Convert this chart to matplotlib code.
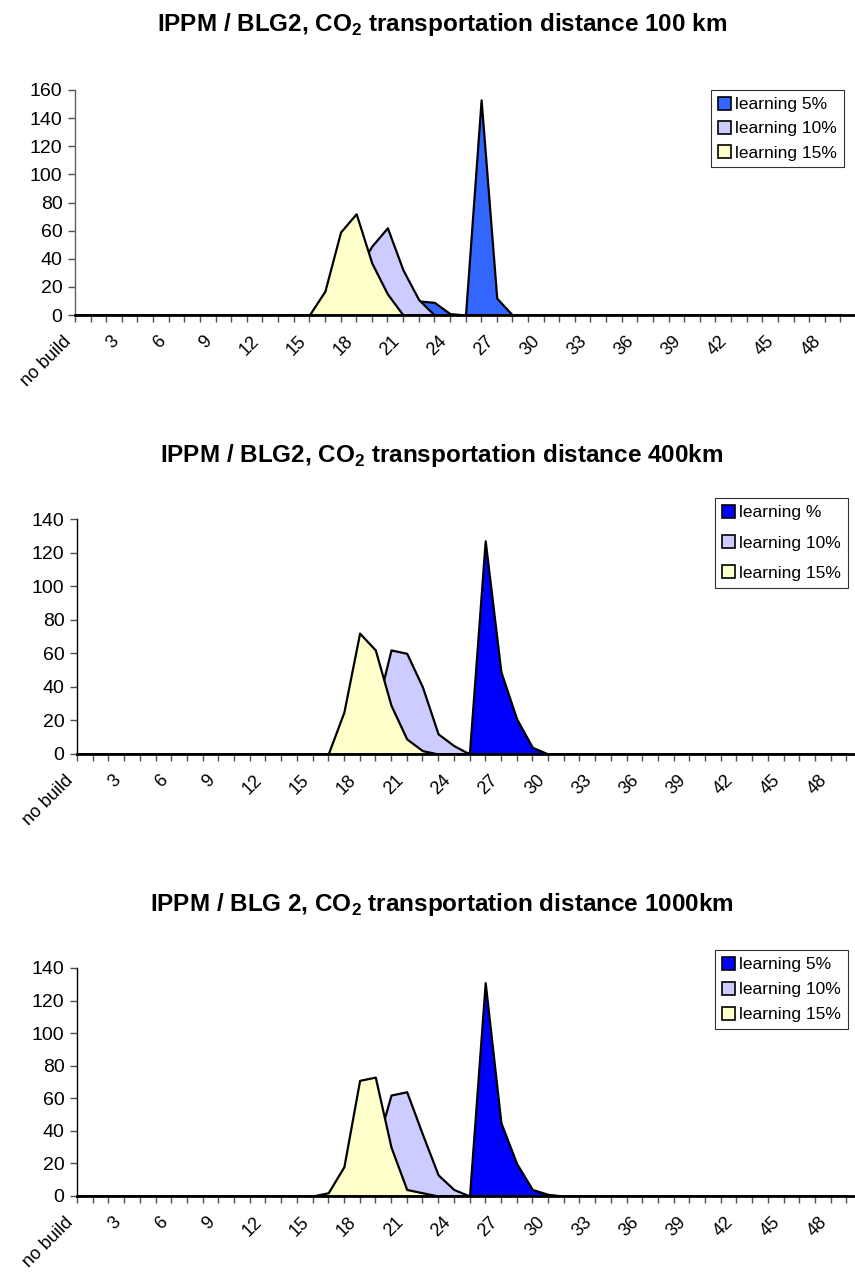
import matplotlib
matplotlib.use("Agg")
import matplotlib.pyplot as plt
from matplotlib.patches import Patch

plt.rcParams['font.family'] = ['Liberation Sans', 'DejaVu Sans']
plt.rcParams['mathtext.fontset'] = 'custom'
plt.rcParams['mathtext.rm'] = 'Liberation Sans'
plt.rcParams['mathtext.bf'] = 'Liberation Sans:bold'

# ---------------- data ----------------
categories = ["no build"] + [str(i) for i in range(1, 50)]
tick_labels_shown = ["no build"] + [str(i) if i % 3 == 0 else "" for i in range(1, 50)]

#            0  1  2  3  4  5  6  7  8  9 10 11 12 13 14 15 16 17 18 19 20 21 22 23 24 25  26  27 28 29 30 31 ...
l5_100  = [0, 0, 0, 0, 0, 0, 0, 0, 0, 0, 0, 0, 0, 0, 0, 0, 0, 0, 0, 0, 2, 5, 10, 9, 1, 0, 153, 12, 0, 0,
           0, 0, 0, 0, 0, 0, 0, 0, 0, 0, 0, 0, 0, 0, 0, 0, 0, 0, 0, 0]
l10_100 = [0, 0, 0, 0, 0, 0, 0, 0, 0, 0, 0, 0, 0, 0, 0, 0, 0, 5, 30, 49, 62, 32, 11, 0, 0, 0, 0, 0, 0, 0,
           0, 0, 0, 0, 0, 0, 0, 0, 0, 0, 0, 0, 0, 0, 0, 0, 0, 0, 0, 0]
l15_100 = [0, 0, 0, 0, 0, 0, 0, 0, 0, 0, 0, 0, 0, 0, 0, 0, 17, 59, 72, 37, 15, 0, 0, 0, 0, 0, 0, 0, 0, 0,
           0, 0, 0, 0, 0, 0, 0, 0, 0, 0, 0, 0, 0, 0, 0, 0, 0, 0, 0, 0]

l5_400  = [0, 0, 0, 0, 0, 0, 0, 0, 0, 0, 0, 0, 0, 0, 0, 0, 0, 0, 0, 0, 0, 0, 0, 0, 0, 1, 127, 49, 21, 4,
           0, 0, 0, 0, 0, 0, 0, 0, 0, 0, 0, 0, 0, 0, 0, 0, 0, 0, 0, 0]
l10_400 = [0, 0, 0, 0, 0, 0, 0, 0, 0, 0, 0, 0, 0, 0, 0, 0, 0, 0, 5, 24, 62, 60, 40, 12, 5, 0, 0, 0, 0, 0,
           0, 0, 0, 0, 0, 0, 0, 0, 0, 0, 0, 0, 0, 0, 0, 0, 0, 0, 0, 0]
l15_400 = [0, 0, 0, 0, 0, 0, 0, 0, 0, 0, 0, 0, 0, 0, 0, 0, 0, 25, 72, 62, 29, 9, 2, 0, 0, 0, 0, 0, 0, 0,
           0, 0, 0, 0, 0, 0, 0, 0, 0, 0, 0, 0, 0, 0, 0, 0, 0, 0, 0, 0]

l5_1000  = [0, 0, 0, 0, 0, 0, 0, 0, 0, 0, 0, 0, 0, 0, 0, 0, 0, 0, 0, 0, 0, 0, 0, 0, 0, 0, 131, 45, 20, 4,
            1, 0, 0, 0, 0, 0, 0, 0, 0, 0, 0, 0, 0, 0, 0, 0, 0, 0, 0, 0]
l10_1000 = [0, 0, 0, 0, 0, 0, 0, 0, 0, 0, 0, 0, 0, 0, 0, 0, 0, 0, 5, 28, 62, 64, 38, 13, 4, 0, 0, 0, 0, 0,
            0, 0, 0, 0, 0, 0, 0, 0, 0, 0, 0, 0, 0, 0, 0, 0, 0, 0, 0, 0]
l15_1000 = [0, 0, 0, 0, 0, 0, 0, 0, 0, 0, 0, 0, 0, 0, 0, 0, 2, 18, 71, 73, 30, 4, 2, 0, 0, 0, 0, 0, 0, 0,
            0, 0, 0, 0, 0, 0, 0, 0, 0, 0, 0, 0, 0, 0, 0, 0, 0, 0, 0, 0]

titles = [r"IPPM / BLG2, CO$_\mathbf{2}$ transportation distance 100 km",
          r"IPPM / BLG2, CO$_\mathbf{2}$ transportation distance 400km",
          r"IPPM / BLG 2, CO$_\mathbf{2}$ transportation distance 1000km"]
legend_labels = [["learning 5%", "learning 10%", "learning 15%"],
                 ["learning %", "learning 10%", "learning 15%"],
                 ["learning 5%", "learning 10%", "learning 15%"]]
series = [[l5_100, l10_100, l15_100],
          [l5_400, l10_400, l15_400],
          [l5_1000, l10_1000, l15_1000]]
ymax = [160, 140, 140]

blue_colors = ["#3366FF", "#0000FF", "#0000FF"]
lav = "#CCCCFF"
yel = "#FFFFCC"

W, H = 855, 1281
fig = plt.figure(figsize=(W / 100, H / 100), dpi=100)

# axes rectangles in pixels: (left, top, bottom)
rects = [(75, 90, 315), (77, 519, 754), (77, 968, 1196)]
title_y = [24, 456, 904]
legend_box = [(844, 90), (848, 498), (848, 950)]
legend_spacing = [0.5, 0.85, 0.55]
spine_colors = ["#606060", "black", "black"]

x = list(range(len(categories)))
for i in range(3):
    lpx, tpx, bpx = rects[i]
    ax = fig.add_axes([lpx / W, 1 - bpx / H, 1 - lpx / W, (bpx - tpx) / H])
    cols = [blue_colors[i], lav, yel]
    handles = []
    for s, c, lab in zip(series[i], cols, legend_labels[i]):
        ax.fill_between(x, 0, s, facecolor=c, edgecolor="black", linewidth=1.6, zorder=2)
        handles.append(Patch(facecolor=c, edgecolor="black", linewidth=1.2, label=lab))
    spacing = 15.62 if i == 0 else 15.7
    ax.set_xlim(0, (W - lpx) / spacing)
    ax.set_ylim(0, ymax[i])
    ax.set_yticks(range(0, ymax[i] + 1, 20))
    ax.set_xticks(x)
    ax.set_xticklabels(tick_labels_shown, rotation=45, ha="right", va="top",
                       rotation_mode="default")
    ax.tick_params(axis="x", direction="out", length=5, width=1, color="#505050",
                   labelsize=13, pad=8)
    ax.tick_params(axis="y", direction="out", length=5, width=1, color="#505050",
                   labelsize=14, pad=4)
    for sp in ["top", "right"]:
        ax.spines[sp].set_visible(False)
    ax.spines["left"].set_color(spine_colors[i])
    ax.spines["left"].set_linewidth(1.0)
    ax.spines["bottom"].set_color("black")
    ax.spines["bottom"].set_linewidth(2.0)
    ax.set_facecolor("white")

    rx, ty = legend_box[i]
    leg = fig.legend(handles=handles, loc="upper right",
                     bbox_to_anchor=(rx / W, 1 - ty / H),
                     bbox_transform=fig.transFigure,
                     fontsize=12.5, frameon=True, fancybox=False,
                     handlelength=0.75, handleheight=0.75, handletextpad=0.25,
                     labelspacing=legend_spacing[i],
                     borderpad=0.4, borderaxespad=0)
    leg.get_frame().set_edgecolor("black")
    leg.get_frame().set_linewidth(0.8)

    fig.text(442 / W, 1 - title_y[i] / H, titles[i], ha="center", va="center",
             fontsize=17.5, fontweight="bold")

fig.savefig("out.png", dpi=100, facecolor="white")
